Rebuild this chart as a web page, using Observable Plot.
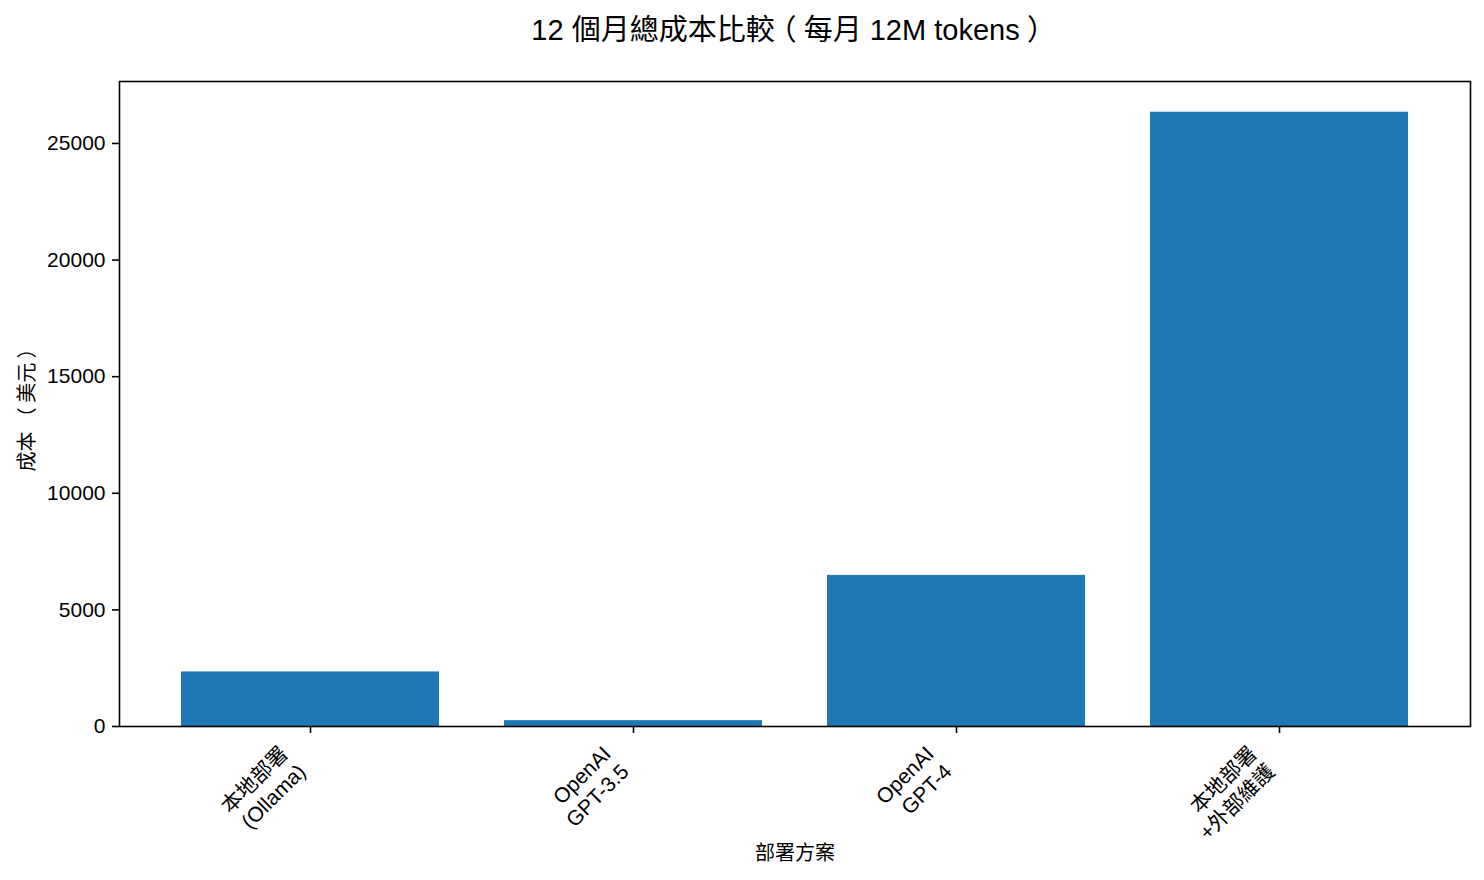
<!DOCTYPE html>
<html>
<head>
<meta charset="utf-8">
<script src="https://cdn.jsdelivr.net/npm/d3@7"></script>
<script src="https://cdn.jsdelivr.net/npm/@observablehq/plot@0.6"></script>
<style>
  body { margin: 0; background: #fff; font-family: "Liberation Sans", "Noto Sans CJK TC", sans-serif; }
  #title { width: 1484px; height: 62px; line-height: 60px; padding-left: 96px; box-sizing: border-box;
           text-align: center; font-size: 29px; color: #000; white-space: nowrap; overflow: hidden; }
  .fw { display: inline-block; width: 1em; text-align: center; font-feature-settings: "halt" 1; }
  svg { display: block; }
</style>
</head>
<body>
<div id="title"></div>
<div id="chart"></div>
<script>
const titleText = "12 個月總成本比較（每月 12M tokens）";
const categories = ["本地部署\n(Ollama)", "OpenAI\nGPT-3.5", "OpenAI\nGPT-4", "本地部署\n+外部維護"];
const costs = [2340, 252, 6480, 26340];
const yTicks = [0, 5000, 10000, 15000, 20000, 25000];
const yLabel = "成本（美元）";
const xLabel = "部署方案";

// title: full-width parentheses centred in a full em box, kept as real text
const titleEl = document.getElementById("title");
titleText.split(/([（）])/).forEach(part => {
  if (!part) return;
  if (part === "（" || part === "）") {
    const s = document.createElement("span");
    s.className = "fw";
    s.textContent = part;
    titleEl.appendChild(s);
  } else {
    titleEl.appendChild(document.createTextNode(part));
  }
});

const data = categories.map((c, i) => ({cat: c, value: costs[i]}));
const font = "'Liberation Sans', 'Noto Sans CJK TC', sans-serif";

const chart = Plot.plot({
  width: 1484,
  height: 818,
  marginTop: 19,
  marginBottom: 154,
  marginLeft: 119,
  marginRight: 14,
  style: {fontSize: "20px", fontFamily: font, color: "#000", background: "#fff", overflow: "visible"},
  x: {domain: categories, paddingInner: 0.2, paddingOuter: 0.19, align: 0.5, axis: null},
  y: {domain: [0, 27657], axis: null},
  marks: [
    Plot.barY(data, {x: "cat", y: "value", fill: "#1f77b4"}),
    Plot.axisY({ticks: yTicks, tickSize: 7, tickPadding: 7, tickFormat: d => String(d), label: null, strokeWidth: 1.6, fontSize: 21}),
    Plot.axisX({tickSize: 7, tickFormat: () => "", label: null, strokeWidth: 1.6}),
    Plot.text(categories, {x: d => d, frameAnchor: "bottom", dx: -34, dy: 16, rotate: -45,
      textAnchor: "end", lineAnchor: "top", lineHeight: 1.2, fontSize: 21, fill: "#000"}),
    Plot.text([yLabel], {frameAnchor: "left", dx: -92, dy: 1, rotate: -90, textAnchor: "middle", fontSize: 20, fill: "#000"}),
    Plot.text([xLabel], {frameAnchor: "bottom", dy: 127, lineAnchor: "middle", textAnchor: "middle", fontSize: 20, fill: "#000"}),
    Plot.frame({stroke: "#000", strokeWidth: 1.6})
  ]
});
// give the y-label's full-width parentheses a full em box
d3.select(chart).selectAll("text").filter(function() { return this.textContent === yLabel; })
  .each(function() {
    const t = d3.select(this);
    const parts = yLabel.split(/([（）])/).filter(p => p);
    t.text(null);
    let padNext = false;
    parts.forEach(p => {
      const isParen = p === "（" || p === "）";
      const ts = t.append("tspan").text(p);
      if (isParen || padNext) ts.attr("dx", "0.22em");
      padNext = isParen;
    });
  });
document.getElementById("chart").appendChild(chart);
</script>
</body>
</html>
